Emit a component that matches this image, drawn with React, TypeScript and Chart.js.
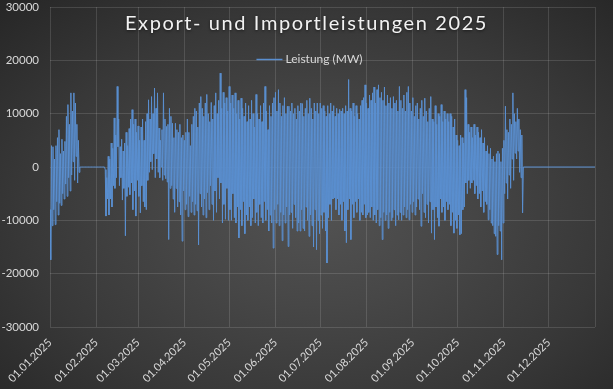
import React, { useEffect, useRef } from 'react';
import { Chart, registerables } from 'chart.js';

Chart.register(...registerables);

const YEAR = 2025;
const chartTitle = 'Export- und Importleistungen 2025';
const seriesLabel = 'Leistung (MW)';
const yMin = -30000;
const yMax = 30000;
const yStep = 10000;
const flatValue = 0;

// Values in MW, two readings per day (12 h apart)
const jan = [
  -8000, -17400, 4000, -11000, 3800, -8000, 1500, -10800, 4000, -6500,
  5500, -9000, 7000, -6800, 2500, -7200, 5200, -5000, 3000, -6000,
  4800, -3200, 9500, -5500, 11700, -2000, 8000, -4500, 13900, -1500,
  10500, 1000, 13900, -2500, 12000, 2000, 8000, -3000, 5000, -1000,
  0, 0, 0, 0, 0, 0, 0, 0, 0, 0, 0, 0, 0, 0, 0, 0, 0, 0, 0, 0, 0, 0,
];
const feb = [
  0, 0, 0, 0, 0, 0, 0, 0, 0, 0, 0, 0,
  -500, -9200, -2000, -6000, 2000, -9000, 1500, -6000, 4500, -7500,
  3500, -3500, 9200, -4000, 6000, -2000, 15100, 3800, 9000, -3500,
  3800, -2000, 5200, -6200, 3000, -4000, 4500, -12900, 6500, -5500,
  4000, -3800, 7200, -5200, 9000, -3000, 10750, -8000, 8000, -4500,
  9000, -9200, 6500, -2500,
];
const mar = [
  7700, -5500, 5000, -8600, 7500, -3500, 9000, -6500, 5000, -7500,
  8500, -8000, 10000, -2500, 12600, -1000, 9000, 1000, 13200, -500,
  10000, 2500, 14800, -2000, 11000, 1500, 13900, -1000, 7300, -2000,
  5000, 0, 7000, -2500, 13900, -1500, 9000, -2200, 7600, -2800,
  8000, -13600, 11000, -4000, 9500, -3500, 8200, -6000, 5500, -8500,
  8200, -4000, 7000, -7500, 6500, -6500, 8000, -9000, 5500, -13900,
  6000, -4500,
];
const apr = [
  5000, -8000, 6500, -7000, 9000, -9300, 6500, -5500, 4000, -8500,
  8000, -6500, 9500, -9000, 11000, -7000, 10500, -8200, 7500, -14600,
  12000, -5000, 13200, -7500, 11000, -9000, 9500, -6000, 12000, -9500,
  13600, -4800, 10000, -8000, 8500, -3500, 12100, -7000, 9000, -10000,
  11500, -4500, 13900, -8500, 10000, -2000, 12500, -6000, 17600, -3000,
  11000, -10500, 14000, -7000, 12000, -9800, 13000, -4000, 10500, -10000,
];
const may = [
  15100, -8000, 12000, -10000, 13500, -5000, 11000, -9500, 13900, -10500,
  10000, -7500, 12500, -13300, 9000, -8000, 12900, -11000, 11000, -6500,
  9500, -12500, 12000, -9000, 8500, -10000, 11500, -7500, 9000, -11000,
  12500, -9500, 10000, -6000, 7500, -10500, 13600, -8500, 10000, -11000,
  9000, -7000, 11500, -9500, 8500, -10500, 12000, -6500, 15100, -10000,
  10500, -8000, 7000, -12000, 11500, -9000, 9500, -10500, 12000, -15200,
  13000, -8000,
];
const jun = [
  14000, -10500, 10500, -7000, 14500, -11000, 12000, -8500, 9500, -13800,
  11500, -9000, 13000, -10500, 10000, -7500, 11400, -14900, 11400, -9000,
  10500, -8500, 12000, -11500, 10000, -7000, 11000, -9500, 9000, -12000,
  11500, -10500, 10500, -12000, 12000, -8000, 11900, -11500, 9500, -12000,
  11000, -7500, 12500, -10000, 10000, -13000, 12900, -9000, 11000, -11000,
  9000, -15000, 12000, -8000, 10500, -15500, 12000, -10000, 10000, -12500,
];
const jul = [
  12000, -9000, 11000, -11500, 11500, -8500, 10500, -12000, 9500, -18000,
  11500, -9500, 10000, -7000, 12000, -10000, 10500, -6000, 11500, -5800,
  9500, -8000, 11000, -6000, 10000, -9000, 10800, -7000, 10500, -10000,
  11000, -6500, 10000, -12000, 11500, -14200, 10500, -8000, 16400, -6000,
  11000, -13600, 10500, -7000, 12000, -9500, 9500, -6500, 11500, -8500,
  10000, -6000, 9000, -10000, 11500, -8500, 12500, -9000, 13000, -7000,
  15400, -9500,
];
const aug = [
  12000, -9000, 11000, -8500, 13500, -9500, 12500, -7500, 13900, -10000,
  15000, -9000, 12000, -10500, 14500, -8000, 15400, -11000, 13000, -9500,
  14000, -13600, 12500, -8500, 15000, -10000, 11500, -9000, 13500, -11500,
  12000, -8500, 13000, -10000, 11000, -9500, 13200, -8000, 12000, -11000,
  12500, -9000, 10500, -9900, 15100, -8500, 12500, -10000, 11000, -9000,
  13500, -7500, 10500, -9500, 14000, -8000, 15100, -9900, 12000, -7000,
  10500, -8500,
];
const sep = [
  13000, -6500, 9500, -9000, 11500, -7500, 12000, -6000, 9000, -8000,
  11000, -11100, 12500, -5000, 9500, -8500, 12900, -9500, 10500, -7000,
  8500, -10500, 11000, -6500, 13200, -12400, 9000, -8000, 8500, -13600,
  11500, -7500, 8000, -9500, 10000, -11100, 9500, -6000, 11700, -8500,
  8500, -7500, 10500, -10000, 9000, -6500, 10000, -8000, 8500, -7000,
  10000, -11000, 9500, -8500, 7500, -12400, 9000, -10000, 6000, -11500,
];
const oct = [
  5000, -9000, 4000, -12700, 6000, -12500, 5500, -8000, 4500, -7500,
  14500, -3000, 13000, -5000, 8000, -2500, 6500, -4000, 7500, -3000,
  5500, -2500, 8000, -5000, 6000, -3500, 7500, -6000, 6500, -5000,
  5500, -7500, 7000, -4500, 4500, -8500, 5500, -6500, 3000, -7000,
  4000, -9900, 2500, -8000, 3500, -10500, 1500, -11000, 2000, -12500,
  1000, -13000, 2500, -16400, 3000, -11000, 2500, -12000, 1000, -17400,
  3500, -10500,
];
const nov = [
  5000, -5000, 11400, -3000, 7000, -6000, 6500, -1500, 9000, -4000,
  8000, 1500, 13900, -2500, 10000, 2600, 8500, 1500, 11000, 3000,
  9000, -1000, 7000, -2000, 6000, -8600, 0,
];
const monthlyValues = [jan, feb, mar, apr, may, jun, jul, aug, sep, oct, nov];

const DAY_MS = 86400000;
const dayOfYear = (month: number) => (Date.UTC(YEAR, month, 1) - Date.UTC(YEAR, 0, 1)) / DAY_MS;
const yearEnd = dayOfYear(12);
const pad2 = (n: number) => String(n).padStart(2, '0');
const monthTickDays = Array.from({ length: 13 }, (_, m) => dayOfYear(m));
const monthTickLabels = Array.from({ length: 12 }, (_, m) => `01.${pad2(m + 1)}.${YEAR}`);

const FONT = 'Lato, "Open Sans", sans-serif';
const TEXT_COLOR = '#d9d9d9';
const GRID_COLOR = 'rgba(255,255,255,0.13)';
const LINE_COLOR = '#5a8fd0';

const overlayPlugin = {
  id: 'overlayTitleLegend',
  afterDraw(chart: any) {
    const ctx = chart.ctx as CanvasRenderingContext2D;
    const cx = chart.width / 2;
    ctx.save();
    ctx.font = `20px ${FONT}`;
    (ctx as any).letterSpacing = '1.6px';
    ctx.fillStyle = '#f2f2f2';
    ctx.textAlign = 'center';
    ctx.textBaseline = 'middle';
    ctx.shadowColor = 'rgba(0,0,0,0.55)';
    ctx.shadowBlur = 3;
    ctx.shadowOffsetY = 1;
    ctx.fillText(chartTitle, cx, 24);
    ctx.restore();

    ctx.save();
    ctx.font = `12px ${FONT}`;
    const tw = ctx.measureText(seriesLabel).width;
    const lineLen = 26;
    const gap = 3;
    const start = cx - (lineLen + gap + tw) / 2 + 3;
    const ly = 59.5;
    ctx.strokeStyle = LINE_COLOR;
    ctx.lineWidth = 1.5;
    ctx.beginPath();
    ctx.moveTo(start, ly);
    ctx.lineTo(start + lineLen, ly);
    ctx.stroke();
    ctx.fillStyle = TEXT_COLOR;
    ctx.textAlign = 'left';
    ctx.textBaseline = 'middle';
    ctx.fillText(seriesLabel, start + lineLen + gap, ly);
    ctx.restore();
  },
};

export default function App() {
  const canvasRef = useRef<HTMLCanvasElement | null>(null);

  useEffect(() => {
    const canvas = canvasRef.current;
    if (!canvas) return;
    const points: { x: number; y: number }[] = [];
    monthlyValues.forEach((vals, m) => {
      const start = dayOfYear(m);
      vals.forEach((v, i) => points.push({ x: start + i * 0.5, y: v }));
    });
    points.push({ x: yearEnd, y: flatValue });

    const chart = new Chart(canvas, {
      type: 'line',
      data: {
        datasets: [
          {
            label: seriesLabel,
            data: points,
            borderColor: LINE_COLOR,
            borderWidth: 1,
            pointRadius: 0,
            tension: 0,
            fill: false,
          },
        ],
      },
      options: {
        animation: false,
        responsive: false,
        devicePixelRatio: 1,
        parsing: false,
        layout: { padding: { left: 0, right: 18, top: 7, bottom: 0 } },
        plugins: {
          legend: { display: false },
          title: { display: false },
          tooltip: { enabled: false },
        },
        scales: {
          x: {
            type: 'linear',
            min: 0,
            max: yearEnd,
            afterBuildTicks: (scale: any) => {
              scale.ticks = monthTickDays.map((d) => ({ value: d }));
            },
            afterFit: (scale: any) => {
              scale.height = 62;
              scale.paddingLeft = 0;
              scale.paddingRight = 0;
              scale.paddingTop = 0;
              scale.paddingBottom = 0;
            },
            grid: { color: GRID_COLOR, drawTicks: false, lineWidth: 1 },
            border: { display: false },
            ticks: {
              autoSkip: false,
              minRotation: 45,
              maxRotation: 45,
              padding: 9,
              color: TEXT_COLOR,
              font: { family: FONT, size: 11 },
              callback: (value: any) => {
                const idx = monthTickDays.indexOf(Number(value));
                return idx >= 0 && idx < monthTickLabels.length ? monthTickLabels[idx] : '';
              },
            },
          },
          y: {
            min: yMin,
            max: yMax,
            afterFit: (scale: any) => {
              scale.width = 50;
              scale.paddingLeft = 0;
              scale.paddingRight = 0;
              scale.paddingTop = 0;
              scale.paddingBottom = 0;
            },
            grid: { color: GRID_COLOR, drawTicks: false, lineWidth: 1 },
            border: { display: false },
            ticks: {
              stepSize: yStep,
              padding: 11,
              color: TEXT_COLOR,
              font: { family: FONT, size: 11.5 },
              callback: (value: any) => String(value),
            },
          },
        },
      },
      plugins: [overlayPlugin],
    } as any);

    return () => chart.destroy();
  }, []);

  return (
    <div
      style={{
        position: 'fixed',
        left: 0,
        top: 0,
        width: 613,
        height: 389,
        background:
          'radial-gradient(ellipse farthest-corner at 52% 55%, #525252 0%, #474747 30%, #383838 65%, #262626 100%)',
      }}
    >
      <canvas ref={canvasRef} width={613} height={389} style={{ display: 'block' }} />
    </div>
  );
}
